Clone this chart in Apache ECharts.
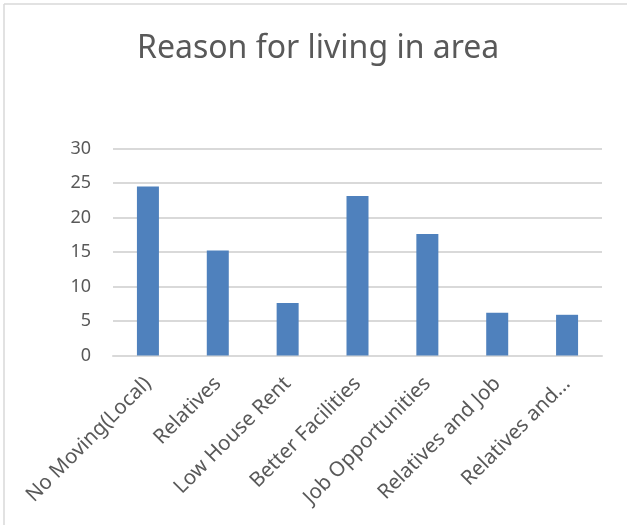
<!DOCTYPE html>
<html>
<head>
<meta charset="utf-8">
<script src="https://cdn.jsdelivr.net/npm/echarts@6/dist/echarts.min.js"></script>
<style>
html,body{margin:0;padding:0;background:#fff;}
#c{width:627px;height:529px;}
</style>
</head>
<body>
<div id="c"></div>
<script>
const titleText = "Reason for living in area";
const categories = ["No Moving(Local)", "Relatives", "Low House Rent", "Better Facilities", "Job Opportunities", "Relatives and Job", "Relatives and..."];
const values = [24.5, 15.2, 7.6, 23.1, 17.6, 6.2, 5.9];
const yTicks = { min: 0, max: 30, interval: 5 };

const chart = echarts.init(document.getElementById('c'), null, {renderer: 'canvas'});
const font = "'Noto Sans', 'Open Sans', sans-serif";
chart.setOption({
  animation: false,
  backgroundColor: '#ffffff',
  title: {
    text: titleText,
    left: 132,
    top: 28,
    textStyle: { fontFamily: font, fontSize: 32, fontWeight: 'normal', color: '#595959' }
  },
  graphic: [
    { type: 'line', shape: { x1: 4, y1: 4, x2: 627, y2: 4 }, style: { stroke: '#d9d9d9', lineWidth: 1.5 } },
    { type: 'line', shape: { x1: 4, y1: 4, x2: 4, y2: 525 }, style: { stroke: '#d9d9d9', lineWidth: 1.5 } }
  ],
  grid: { left: 113, right: 25, top: 148.5, bottom: 173.5, containLabel: false },
  xAxis: {
    type: 'category',
    data: categories,
    axisLine: { show: true, lineStyle: { color: '#d9d9d9', width: 2 } },
    axisTick: { show: false },
    axisLabel: { rotate: 45, interval: 0, margin: 25, fontFamily: font, fontSize: 20.5, color: '#595959' }
  },
  yAxis: {
    type: 'value',
    min: yTicks.min, max: yTicks.max, interval: yTicks.interval,
    axisLine: { show: false },
    axisTick: { show: false },
    splitLine: { lineStyle: { color: '#d9d9d9', width: 2 } },
    axisLabel: { margin: 22, fontFamily: font, fontSize: 18, color: '#595959' }
  },
  series: [{
    type: 'bar',
    data: values,
    barWidth: 22,
    itemStyle: { color: '#4f81bd' }
  }]
});
</script>
</body>
</html>
